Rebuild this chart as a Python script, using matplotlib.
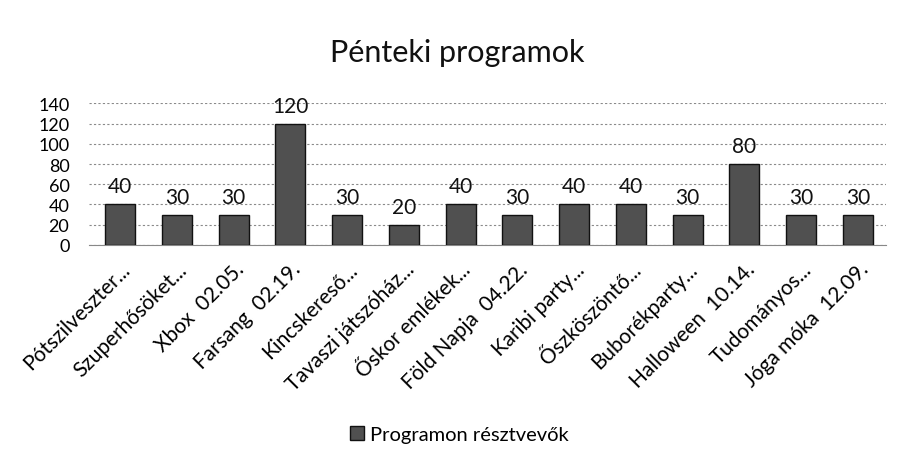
import matplotlib
matplotlib.use("Agg")
import matplotlib.pyplot as plt
from matplotlib.patches import Rectangle

plt.rcParams['font.family'] = ['Lato', 'DejaVu Sans']

categories = ["Pótszilveszter...", "Szuperhősöket...", "Xbox  02.05.", "Farsang  02.19.",
              "Kincskereső...", "Tavaszi játszóház...", "Őskor emlékek...", "Föld Napja  04.22.",
              "Karibi party...", "Őszköszöntő...", "Buborékparty...", "Halloween  10.14.",
              "Tudományos...", "Jóga móka  12.09."]
values = [40, 30, 30, 120, 30, 20, 40, 30, 40, 40, 30, 80, 30, 30]
yticks = [0, 20, 40, 60, 80, 100, 120, 140]
series_name = "Programon résztvevők"

bar_color = "#505050"

fig = plt.figure(figsize=(9.01, 4.64), dpi=100)
ax = fig.add_axes([0.0986, 0.47, 0.885, 0.305])
x = range(len(categories))
ax.bar(x, values, width=0.53, color=bar_color, edgecolor="#111111", linewidth=1.0,
       label=series_name, zorder=3)
for xi, v in zip(x, values):
    ax.text(xi, v + 8, str(v), ha="center", va="bottom", fontsize=15, color="#111111")

ax.set_ylim(0, 140)
ax.set_yticks(yticks)
ax.set_yticklabels([str(t) for t in yticks], fontsize=13)
ax.set_xlim(-0.55, len(categories) - 0.5)
ax.set_xticks(list(x))
ax.set_xticklabels(categories, rotation=45, ha="right", rotation_mode="anchor", fontsize=15)
ax.tick_params(axis="y", length=0, pad=14)
ax.tick_params(axis="x", length=0, pad=10)
ax.yaxis.grid(True, color="#8a8a8a", linestyle=(0, (2, 2)), linewidth=0.8, zorder=0)
for s in ["top", "right", "left"]:
    ax.spines[s].set_visible(False)
ax.spines["bottom"].set_color("#888888")

fig.suptitle("Pénteki programok", x=0.508, y=0.915, fontsize=22, color="#111111")

fig.legend(handles=[Rectangle((0, 0), 1, 1, facecolor=bar_color, edgecolor="#111111")],
           labels=[series_name], loc="center", bbox_to_anchor=(0.51, 0.062),
           frameon=False, fontsize=14.5, handlelength=0.7, handleheight=0.7, handletextpad=0.3)

fig.savefig("out.png", dpi=100)
